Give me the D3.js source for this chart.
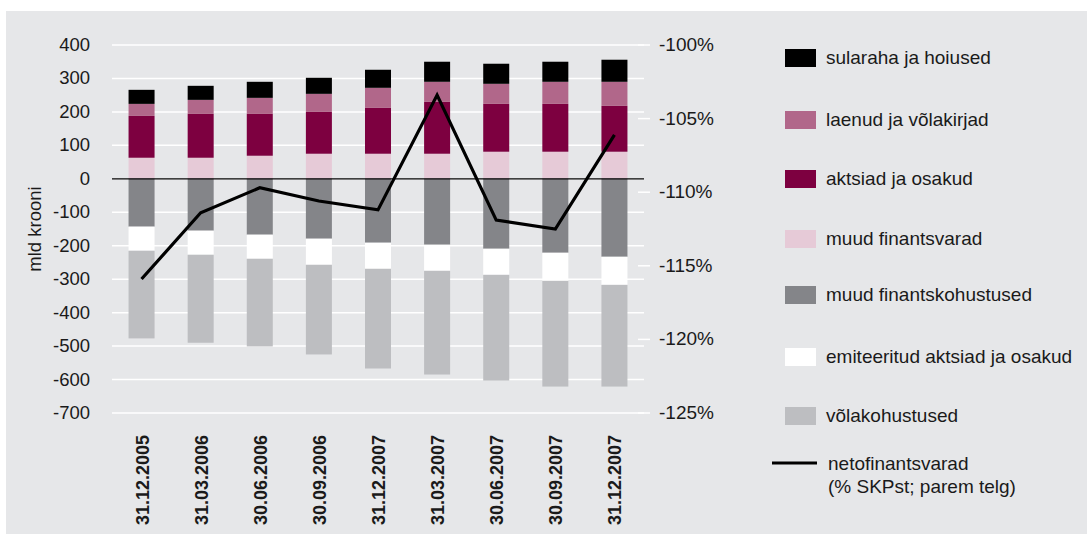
<!DOCTYPE html>
<html>
<head>
<meta charset="utf-8">
<script src="https://cdn.jsdelivr.net/npm/d3@7"></script>
<style>
  body { margin: 0; background: #fff; }
  svg { display: block; font-family: "Liberation Sans", Arial, sans-serif; }
  .tick-label { font-size: 18.5px; fill: #1a1a1a; }
  .legend-text { font-size: 19px; fill: #1a1a1a; }
</style>
</head>
<body>
<div id="chart"></div>
<script>
// data
const dates = ['31.12.2005', '31.03.2006', '30.06.2006', '30.09.2006', '31.12.2007',
  '31.03.2007', '30.06.2007', '30.09.2007', '31.12.2007'];

// assets (stacked upwards, bottom first)
const muudVarad = [63, 63, 69, 75, 75, 75, 81, 81, 81];
const aktsiad = [125, 131, 125, 125, 137, 155, 143, 143, 137];
const laenud = [36, 42, 48, 54, 60, 60, 60, 66, 72];
const sularaha = [42, 42, 48, 48, 54, 60, 60, 60, 66];

// liabilities (stacked downwards, top first)
const muudKohustused = [143, 155, 167, 179, 191, 197, 209, 221, 233];
const emiteeritud = [72, 72, 72, 78, 78, 78, 78, 84, 84];
const volakohustused = [262, 263, 262, 268, 298, 310, 316, 316, 304];

// net financial assets, % of GDP (right axis)
const neto = [-115.9, -111.4, -109.7, -110.6, -111.2, -103.4, -111.9, -112.5, -106.1];

const leftTicks = [400, 300, 200, 100, 0, -100, -200, -300, -400, -500, -600, -700];
const rightTicks = [-100, -105, -110, -115, -120, -125];

const assetSeries = [
  { name: 'muud finantsvarad', values: muudVarad, color: '#e6cad7' },
  { name: 'aktsiad ja osakud', values: aktsiad, color: '#7d0040' },
  { name: 'laenud ja võlakirjad', values: laenud, color: '#b1678a' },
  { name: 'sularaha ja hoiused', values: sularaha, color: '#000000' }
];
const liabSeries = [
  { name: 'muud finantskohustused', values: muudKohustused, color: '#848589' },
  { name: 'emiteeritud aktsiad ja osakud', values: emiteeritud, color: '#ffffff' },
  { name: 'võlakohustused', values: volakohustused, color: '#bdbec1' }
];
const legendOrder = [assetSeries[3], assetSeries[2], assetSeries[1], assetSeries[0],
  liabSeries[0], liabSeries[1], liabSeries[2]];

// chart setup
const W = 1087, H = 534;
const plot = { left: 112, right: 644, top: 45, bottom: 413 };

const svg = d3.select('#chart').append('svg').attr('width', W).attr('height', H);

svg.append('rect')
  .attr('x', 6).attr('y', 11)
  .attr('width', W - 6).attr('height', H - 11)
  .attr('fill', '#e6e7e9');

const x = d3.scaleBand()
  .domain(d3.range(dates.length))
  .range([plot.left, plot.right])
  .paddingInner(0.56)
  .paddingOuter(0.28);

const y = d3.scaleLinear().domain([-700, 400]).range([plot.bottom, plot.top]);
const y2 = d3.scaleLinear().domain([-125, -100]).range([plot.bottom, plot.top]);

// gridlines
svg.append('g')
  .selectAll('line')
  .data(leftTicks)
  .enter().append('line')
  .attr('x1', plot.left).attr('x2', plot.right)
  .attr('y1', d => y(d)).attr('y2', d => y(d))
  .attr('stroke', '#fff').attr('stroke-width', 1.5);

// left axis labels
svg.append('g')
  .selectAll('text')
  .data(leftTicks)
  .enter().append('text')
  .attr('class', 'tick-label')
  .attr('x', 90)
  .attr('y', d => y(d) + 6)
  .attr('text-anchor', 'end')
  .text(d => d);

svg.append('text')
  .attr('class', 'tick-label')
  .attr('transform', `translate(41, ${y(-150)}) rotate(-90)`)
  .attr('text-anchor', 'middle')
  .text('mld krooni');

// right axis ticks and labels
const right = svg.append('g');
right.selectAll('line')
  .data(rightTicks)
  .enter().append('line')
  .attr('x1', 638).attr('x2', 650)
  .attr('y1', d => y2(d)).attr('y2', d => y2(d))
  .attr('stroke', '#fff').attr('stroke-width', 1.5);
right.selectAll('text')
  .data(rightTicks)
  .enter().append('text')
  .attr('class', 'tick-label')
  .style('font-size', '19px')
  .attr('x', 659)
  .attr('y', d => y2(d) + 6)
  .text(d => d + '%');

// stacked bars
const bars = svg.append('g');
dates.forEach((d, i) => {
  let base = 0;
  assetSeries.forEach(s => {
    const v = s.values[i];
    bars.append('rect')
      .attr('x', x(i)).attr('width', x.bandwidth())
      .attr('y', y(base + v)).attr('height', y(base) - y(base + v))
      .attr('fill', s.color);
    base += v;
  });
  base = 0;
  liabSeries.forEach(s => {
    const v = s.values[i];
    bars.append('rect')
      .attr('x', x(i)).attr('width', x.bandwidth())
      .attr('y', y(base)).attr('height', y(base - v) - y(base))
      .attr('fill', s.color);
    base -= v;
  });
});

// zero line
svg.append('line')
  .attr('x1', plot.left).attr('x2', plot.right)
  .attr('y1', y(0)).attr('y2', y(0))
  .attr('stroke', '#000').attr('stroke-width', 1.3);

// net line
const line = d3.line()
  .x((d, i) => x(i) + x.bandwidth() / 2)
  .y(d => y2(d));
svg.append('path')
  .datum(neto)
  .attr('d', line)
  .attr('fill', 'none')
  .attr('stroke', '#000')
  .attr('stroke-width', 3.2)
  .attr('stroke-linejoin', 'miter');

// x labels
svg.append('g')
  .selectAll('text')
  .data(dates)
  .enter().append('text')
  .attr('transform', (d, i) => `translate(${x(i) + x.bandwidth() / 2 + 7}, 435) rotate(-90)`)
  .attr('text-anchor', 'end')
  .style('font-size', '18px')
  .style('font-weight', 'bold')
  .style('fill', '#1a1a1a')
  .text(d => d);

// legend
const legend = svg.append('g');
const legendY = [49, 111, 170, 230, 286, 348, 407];
legendOrder.forEach((s, i) => {
  legend.append('rect')
    .attr('x', 785).attr('y', legendY[i])
    .attr('width', 31).attr('height', 18)
    .attr('fill', s.color);
  legend.append('text')
    .attr('class', 'legend-text')
    .attr('x', 826).attr('y', legendY[i] + 15)
    .text(s.name);
});
legend.append('line')
  .attr('x1', 772).attr('x2', 817)
  .attr('y1', 463).attr('y2', 463)
  .attr('stroke', '#000').attr('stroke-width', 3.2);
legend.append('text')
  .attr('class', 'legend-text')
  .attr('x', 828).attr('y', 470)
  .text('netofinantsvarad');
legend.append('text')
  .attr('class', 'legend-text')
  .attr('x', 828).attr('y', 493)
  .text('(% SKPst; parem telg)');
</script>
</body>
</html>
